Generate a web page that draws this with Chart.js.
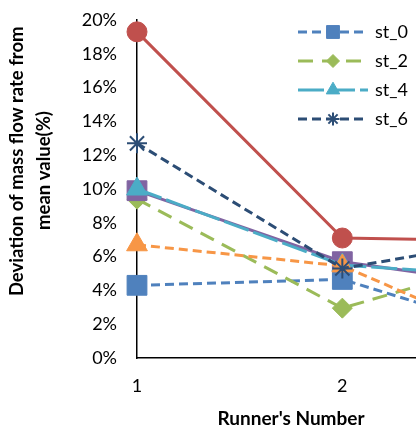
<!DOCTYPE html>
<html>
<head>
<meta charset="utf-8">
<script src="https://cdn.jsdelivr.net/npm/chart.js@4/dist/chart.umd.min.js"></script>
<style>
  html, body { margin: 0; padding: 0; background: #fff; overflow: hidden; }
  #wrap { position: relative; width: 460px; height: 432px; }
</style>
</head>
<body>
<div id="wrap"><canvas id="chart"></canvas></div>
<script>
"use strict";

// runner numbers (x axis) - the picture only shows 1 and 2, the rest is cut off
var runners = [1, 2, 3];

// deviation of mass flow rate from mean value, in %
var st0 = [4.3, 4.65, 0.9];
var st1 = [19.3, 7.1, 6.9];
var st2 = [9.4, 2.95, 6.5];
var st3 = [9.9, 5.7, 4.0];
var st4 = [10.0, 5.5, 4.7];
var st5 = [6.7, 5.45, 0.2];
var st6 = [12.7, 5.3, 7.4];

var yTicks = [0, 2, 4, 6, 8, 10, 12, 14, 16, 18, 20];
var legendNames = ["st_0", "st_2", "st_4", "st_6"];

var FONT = "Lato";

function series(label, data, color, dash, style, radius, order) {
  return {
    label: label,
    data: data,
    borderColor: color,
    backgroundColor: color,
    borderWidth: 3,
    borderDash: dash,
    pointStyle: style,
    pointRadius: radius,
    pointHoverRadius: radius,
    pointBorderWidth: style === "star" ? 2 : 1,
    pointBorderColor: color,
    pointBackgroundColor: color,
    tension: 0,
    fill: false,
    clip: false,
    order: order,
  };
}

// draws the legend inside the plot, line + marker like the original
var lineLegend = {
  id: "lineLegend",
  afterDraw(chart) {
    var ctx = chart.ctx;
    var top = chart.chartArea.top;
    var row = 0;
    chart.data.datasets.forEach((ds) => {
      if (legendNames.indexOf(ds.label) < 0) return;
      var y = top + 12 + row * 29;
      ctx.save();
      ctx.strokeStyle = ds.borderColor;
      ctx.lineWidth = ds.borderWidth;
      ctx.setLineDash(ds.borderDash || []);
      ctx.beginPath();
      ctx.moveTo(298, y);
      ctx.lineTo(368, y);
      ctx.stroke();
      ctx.setLineDash([]);
      ctx.fillStyle = ds.pointBackgroundColor;
      ctx.strokeStyle = ds.pointBorderColor;
      ctx.lineWidth = ds.pointBorderWidth;
      Chart.helpers.drawPoint(ctx, {
        pointStyle: ds.pointStyle,
        radius: ds.pointRadius * 0.65,
        rotation: 0,
        borderWidth: ds.pointBorderWidth,
      }, 333, y);
      ctx.fillStyle = "#000";
      ctx.font = "18px " + FONT;
      ctx.textBaseline = "middle";
      ctx.textAlign = "left";
      ctx.fillText(ds.label, 375, y);
      ctx.restore();
      row++;
    });
  },
};

var ctx = document.getElementById("chart").getContext("2d");

new Chart(ctx, {
  type: "line",
  data: {
    labels: runners,
    datasets: [
      series("st_0", st0, "#4F81BD", [9, 5], "rect", 14, 6),
      series("st_1", st1, "#C0504D", [], "circle", 10, 5),
      series("st_2", st2, "#9BBB59", [15, 9], "rectRot", 10, 4),
      series("st_3", st3, "#8064A2", [], "rect", 14, 3),
      series("st_4", st4, "#4BACC6", [26, 5], "triangle", 12, 2),
      series("st_5", st5, "#F79646", [9, 5], "triangle", 12, 1),
      series("st_6", st6, "#2C4D75", [9, 5], "star", 10, 0),
    ],
  },
  options: {
    responsive: true,
    maintainAspectRatio: false,
    animation: false,
    layout: { padding: { top: 20, right: 5, left: 0, bottom: 0 } },
    plugins: {
      legend: { display: false },
      tooltip: { enabled: false },
    },
    scales: {
      x: {
        type: "linear",
        min: 1,
        max: 2.5,
        grid: { display: false, drawTicks: false },
        border: { display: true, color: "#000", width: 1.5 },
        ticks: {
          stepSize: 1,
          includeBounds: false,
          padding: 17,
          color: "#000",
          font: { family: FONT, size: 18 },
        },
        title: {
          display: true,
          text: "Runner's Number",
          color: "#000",
          font: { family: FONT, size: 19, weight: "bold" },
          padding: { top: 12, bottom: 2 },
        },
        afterFit(scale) { scale.height = 74; },
      },
      y: {
        min: 0,
        max: 20,
        grid: { display: false, drawTicks: false },
        border: { display: true, color: "#000", width: 1.5 },
        afterBuildTicks(scale) {
          scale.ticks = yTicks.map((v) => ({ value: v }));
        },
        ticks: {
          padding: 20,
          color: "#000",
          font: { family: FONT, size: 18 },
          callback: (v) => v + "%",
        },
        title: {
          display: true,
          text: ["\u2002\u2002\u2002\u2002\u2002\u2002Deviation of mass flow rate from",
                 "\u2002\u2002\u2002\u2002mean value(%)"],
          color: "#000",
          font: { family: FONT, size: 18.5, weight: "bold", lineHeight: 1.45 },
          padding: { top: 4, bottom: 0 },
        },
        afterFit(scale) {
          scale.width = 137;
          // tick padding would otherwise push the plot top down
          scale.paddingTop = 10;
          scale.paddingBottom = 10;
        },
      },
    },
  },
  plugins: [lineLegend],
});
</script>
</body>
</html>
